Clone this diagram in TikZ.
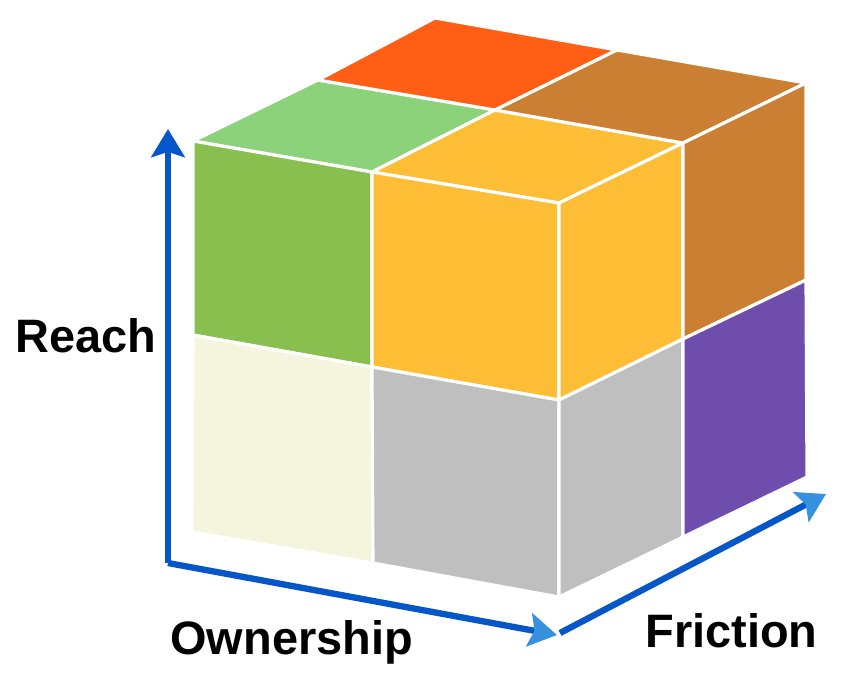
\documentclass[tikz,border=0pt]{standalone}
\usepackage{fontspec}
\setmainfont{Liberation Sans}
\usepackage{xcolor}
\usetikzlibrary{arrows.meta,positioning}

\definecolor{topred}{RGB}{255,94,20}
\definecolor{brownish}{RGB}{203,127,51}
\definecolor{lightgreen}{RGB}{140,210,122}
\definecolor{frontgreen}{RGB}{136,191,78}
\definecolor{cubeyellow}{RGB}{253,189,53}
\definecolor{cream}{RGB}{244,245,220}
\definecolor{cubegray}{RGB}{191,191,191}
\definecolor{cubepurple}{RGB}{111,77,173}
\definecolor{axisblue}{RGB}{5,86,200}
\definecolor{tipblue}{RGB}{55,145,225}

\begin{document}
\begin{tikzpicture}[x=0.02cm, y=-0.02cm,
    cell/.style={draw=white, line width=1.8pt, line join=miter},
    axis/.style={draw=axisblue, line width=3.6pt, line join=miter,
        -{Stealth[length=16pt, width=19pt, inset=3pt, fill=#1, color=#1]}},
    axis/.default=tipblue,
    axislabel/.style={font=\fontsize{26.7}{32}\selectfont\bfseries, inner sep=0pt, anchor=base west}
]

% canvas
\fill[white] (0,0) rectangle (863,687);
\useasboundingbox (0,0) rectangle (863,687);

% front face grid
\coordinate (f00) at (193,141); \coordinate (f01) at (372,172); \coordinate (f02) at (559,203);
\coordinate (f10) at (193,335); \coordinate (f11) at (372,367); \coordinate (f12) at (559,400);
\coordinate (f20) at (192,532); \coordinate (f21) at (373,563); \coordinate (f22) at (559,597);

% right face grid
\coordinate (r10) at (683,143); \coordinate (r11) at (683,339); \coordinate (r12) at (683,537);
\coordinate (r20) at (806,83);  \coordinate (r21) at (806,280); \coordinate (r22) at (807,477);

% top face grid
\coordinate (t10) at (318,80);  \coordinate (t11) at (495,110);
\coordinate (t20) at (435,18);  \coordinate (t21) at (617,50);

% top face cells
\filldraw[cell, fill=lightgreen] (f00) -- (f01) -- (t11) -- (t10) -- cycle;
\filldraw[cell, fill=cubeyellow] (f01) -- (f02) -- (r10) -- (t11) -- cycle;
\filldraw[cell, fill=topred] (t10) -- (t11) -- (t21) -- (t20) -- cycle;
\filldraw[cell, fill=brownish] (t11) -- (r10) -- (r20) -- (t21) -- cycle;

% front face cells
\filldraw[cell, fill=frontgreen] (f00) -- (f01) -- (f11) -- (f10) -- cycle;
\filldraw[cell, fill=cubeyellow] (f01) -- (f02) -- (f12) -- (f11) -- cycle;
\filldraw[cell, fill=cream] (f10) -- (f11) -- (f21) -- (f20) -- cycle;
\filldraw[cell, fill=cubegray] (f11) -- (f12) -- (f22) -- (f21) -- cycle;

% right face cells
\filldraw[cell, fill=cubeyellow] (f02) -- (r10) -- (r11) -- (f12) -- cycle;
\filldraw[cell, fill=brownish] (r10) -- (r20) -- (r21) -- (r11) -- cycle;
\filldraw[cell, fill=cubegray] (f12) -- (r11) -- (r12) -- (f22) -- cycle;
\filldraw[cell, fill=cubepurple] (r11) -- (r21) -- (r22) -- (r12) -- cycle;

% axes
\coordinate (origin) at (168,563);
\coordinate (reachtip) at (168,129);
\coordinate (owntip) at (557,635);
\coordinate (fricstart) at (560,633);
\coordinate (frictip) at (826,494);

\draw[axis=axisblue] (origin) -- (reachtip);
\draw[axis] (origin) -- (owntip);
\draw[axis] (fricstart) -- (frictip);

% labels
\node[axislabel] (reach) at (15,352) {Reach};
\node[axislabel] (ownership) at (170,654) {Ownership};
\node[axislabel] (friction) at (645,647) {Friction};

\end{tikzpicture}
\end{document}
